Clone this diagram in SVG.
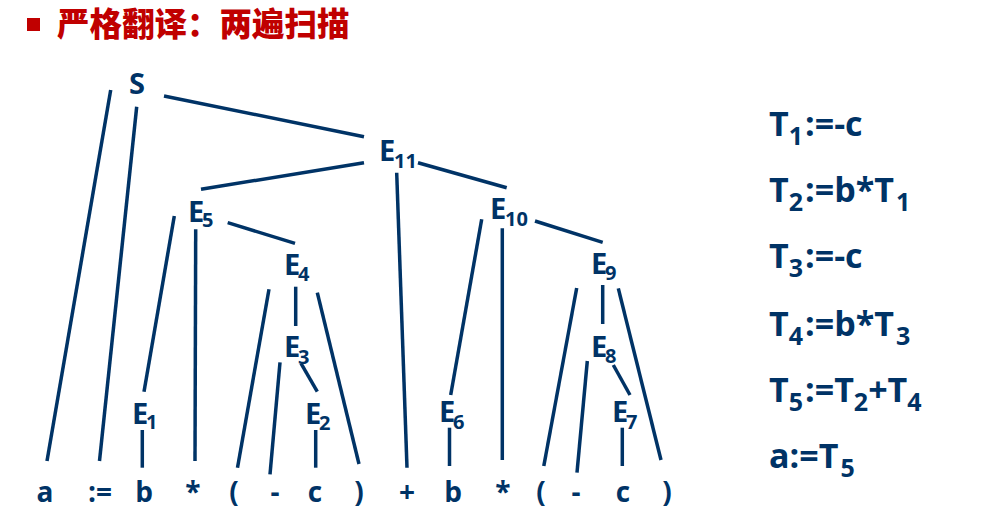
<svg xmlns="http://www.w3.org/2000/svg" width="981" height="513" viewBox="0 0 981 513">
<style>
.t{font-family:"Open Sans","Noto Sans","Liberation Sans",sans-serif;font-weight:bold;fill:#003366}
.n{font-size:29px}
.s{font-size:20px}
.lf{font-size:28px}
.r{font-size:34px}
.rs{font-size:25px}
.title{font-family:"Noto Sans CJK SC","Noto Sans",sans-serif;font-weight:900;font-size:32.5px;fill:#c00000}
#connectors line{stroke:#003366;stroke-width:3.5;stroke-linecap:butt}
</style>
<rect width="981" height="513" fill="#ffffff"/>
<g id="title">
<rect x="27" y="18" width="13" height="13" fill="#c00000"/>
<text class="title" x="57" y="36">严格翻译：两遍扫描</text>
</g>
<g id="connectors">
<line x1="110.7" y1="90" x2="47" y2="461"/>
<line x1="136.7" y1="106.7" x2="99.5" y2="461"/>
<line x1="164" y1="96" x2="364" y2="136.7"/>
<line x1="364" y1="162.7" x2="201" y2="189.3"/>
<line x1="396.7" y1="172.7" x2="407" y2="467.7"/>
<line x1="418" y1="162.7" x2="506.7" y2="187.7"/>
<line x1="174.3" y1="216" x2="144" y2="391.7"/>
<line x1="195.7" y1="229.3" x2="195" y2="461"/>
<line x1="227.7" y1="222.7" x2="295" y2="243.3"/>
<line x1="142.3" y1="430" x2="142.3" y2="467.7"/>
<line x1="269" y1="289.3" x2="237.5" y2="467.7"/>
<line x1="295.7" y1="286.7" x2="295.7" y2="326"/>
<line x1="317.3" y1="292.7" x2="359" y2="464"/>
<line x1="280" y1="362.3" x2="270" y2="474.3"/>
<line x1="301" y1="363.3" x2="317.3" y2="391.7"/>
<line x1="315.7" y1="430" x2="315.7" y2="467.7"/>
<line x1="481.7" y1="219.3" x2="450.7" y2="395"/>
<line x1="502.3" y1="228.3" x2="502.3" y2="460"/>
<line x1="535" y1="221" x2="602.7" y2="242.3"/>
<line x1="449.5" y1="427.7" x2="449.5" y2="466"/>
<line x1="576.7" y1="288" x2="543.8" y2="466"/>
<line x1="602.7" y1="285" x2="602.7" y2="324"/>
<line x1="618.3" y1="288.3" x2="661" y2="460"/>
<line x1="587.3" y1="361" x2="577" y2="472.7"/>
<line x1="613.3" y1="365" x2="630" y2="395"/>
<line x1="622.3" y1="427.7" x2="622.3" y2="466"/>
</g>
<g id="S"><text class="t n" x="137" y="94" text-anchor="middle">S</text></g>
<g id="E11"><text class="t n" x="379" y="161">E</text><text class="t s" x="394" y="168">11</text></g>
<g id="E5"><text class="t n" x="188" y="222">E</text><text class="t s" x="202" y="227">5</text></g>
<g id="E10"><text class="t n" x="490" y="219">E</text><text class="t s" x="505" y="226">10</text></g>
<g id="E4"><text class="t n" x="284" y="275">E</text><text class="t s" x="298" y="281">4</text></g>
<g id="E9"><text class="t n" x="591" y="274">E</text><text class="t s" x="605" y="280">9</text></g>
<g id="E3"><text class="t n" x="284" y="357">E</text><text class="t s" x="298" y="364">3</text></g>
<g id="E8"><text class="t n" x="591" y="357">E</text><text class="t s" x="605" y="363">8</text></g>
<g id="E1"><text class="t n" x="132" y="424">E</text><text class="t s" x="146" y="429">1</text></g>
<g id="E2"><text class="t n" x="305" y="424">E</text><text class="t s" x="319" y="430">2</text></g>
<g id="E6"><text class="t n" x="439" y="422">E</text><text class="t s" x="453" y="429">6</text></g>
<g id="E7"><text class="t n" x="612" y="422">E</text><text class="t s" x="626" y="429">7</text></g>
<g id="leaves" text-anchor="middle">
<text class="t lf" x="45" y="502">a</text>
<text class="t lf" x="100" y="502">:=</text>
<text class="t lf" x="144" y="502">b</text>
<text class="t lf" x="193" y="502">*</text>
<text class="t lf" x="234" y="502">(</text>
<text class="t lf" x="275" y="502">-</text>
<text class="t lf" x="315" y="502">c</text>
<text class="t lf" x="359" y="502">)</text>
<text class="t lf" x="407" y="502">+</text>
<text class="t lf" x="453" y="502">b</text>
<text class="t lf" x="503" y="502">*</text>
<text class="t lf" x="541" y="502">(</text>
<text class="t lf" x="576" y="502">-</text>
<text class="t lf" x="623" y="502">c</text>
<text class="t lf" x="667" y="502">)</text>
</g>
<g id="quads">
<text class="t r" x="769" y="136">T<tspan class="rs" dy="9">1</tspan><tspan dy="-9" dx="2">:=-c</tspan></text>
<text class="t r" x="769" y="202">T<tspan class="rs" dy="9">2</tspan><tspan dy="-9" dx="2">:=b*T</tspan><tspan class="rs" dy="9" dx="2">1</tspan></text>
<text class="t r" x="769" y="268">T<tspan class="rs" dy="9">3</tspan><tspan dy="-9" dx="2">:=-c</tspan></text>
<text class="t r" x="769" y="336">T<tspan class="rs" dy="9">4</tspan><tspan dy="-9" dx="2">:=b*T</tspan><tspan class="rs" dy="9" dx="2">3</tspan></text>
<text class="t r" x="769" y="402">T<tspan class="rs" dy="9">5</tspan><tspan dy="-9" dx="2">:=T</tspan><tspan class="rs" dy="9">2</tspan><tspan dy="-9">+T</tspan><tspan class="rs" dy="9">4</tspan></text>
<text class="t r" x="769" y="468">a:=T<tspan class="rs" dy="9" dx="2">5</tspan></text>
</g>
</svg>
